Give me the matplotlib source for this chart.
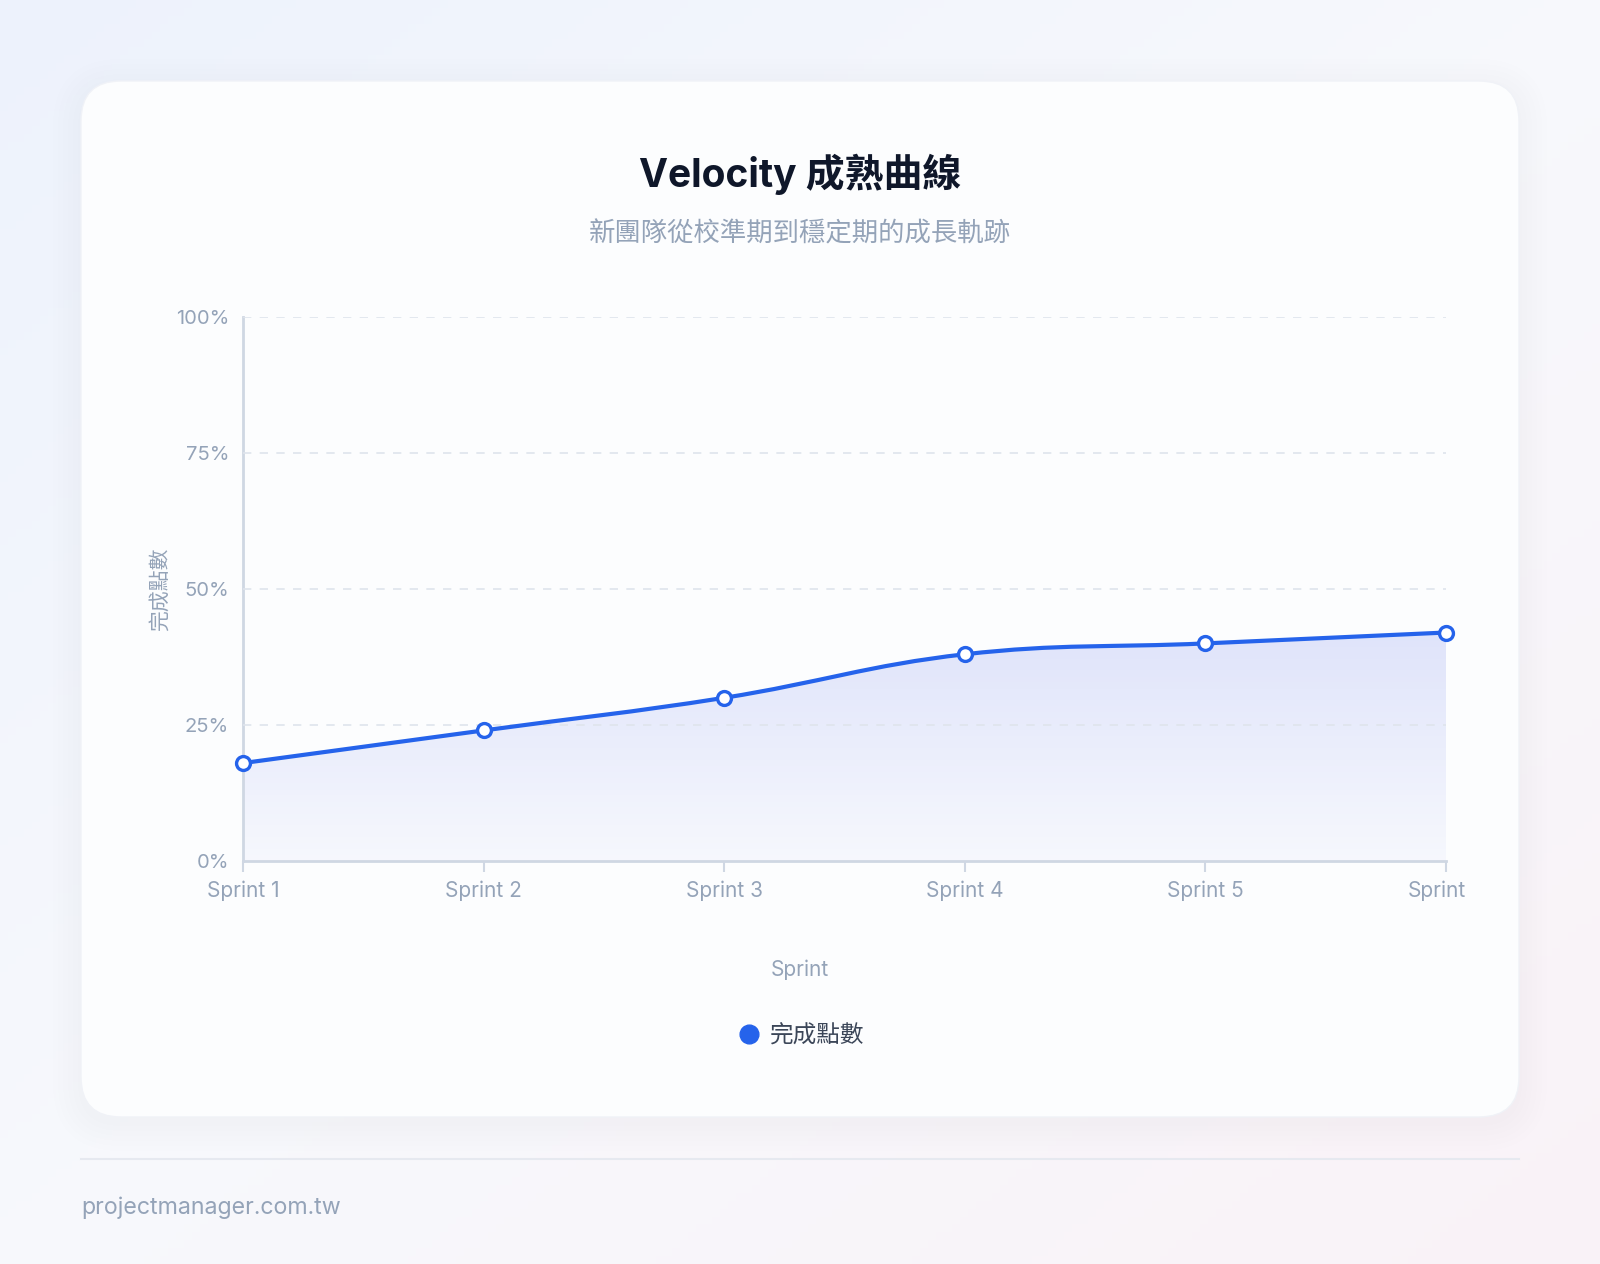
import numpy as np
import matplotlib
matplotlib.use("Agg")
import matplotlib.pyplot as plt
from matplotlib.patches import FancyBboxPatch, PathPatch
from matplotlib.path import Path
from matplotlib.lines import Line2D
from matplotlib.transforms import offset_copy

# data
sprints = ["Sprint 1", "Sprint 2", "Sprint 3", "Sprint 4", "Sprint 5", "Sprint"]
completed = [18, 24, 30, 38, 40, 42]
y_ticks = [0, 25, 50, 75, 100]

title = "Velocity 成熟曲線"
subtitle = "新團隊從校準期到穩定期的成長軌跡"
series_name = "完成點數"
footer = "projectmanager.com.tw"

fonts = ["Inter", "Noto Sans CJK TC", "DejaVu Sans"]
plt.rcParams["font.family"] = fonts

blue = "#2563eb"
muted = "#94a3b8"

W, H = 1600, 1264
fig = plt.figure(figsize=(W / 100, H / 100), dpi=100)

# page background gradient
bg = fig.add_axes([0, 0, 1, 1], zorder=-10)
bg.set_xlim(0, W)
bg.set_ylim(0, H)
bg.axis("off")
gx, gy = np.meshgrid(np.linspace(0, 1, 200), np.linspace(0, 1, 160))
c_tl = np.array([0.93, 0.95, 0.99])
c_br = np.array([0.98, 0.95, 0.97])
c_mid = np.array([0.97, 0.975, 0.99])
t = (gx + gy) / 2
img = np.zeros(gx.shape + (3,))
for k in range(3):
    img[..., k] = np.where(t < 0.5, c_tl[k] + (c_mid[k] - c_tl[k]) * t * 2,
                           c_mid[k] + (c_br[k] - c_mid[k]) * (t - 0.5) * 2)
bg.imshow(img, extent=[0, W, 0, H], origin="upper", aspect="auto", zorder=0)

# card with soft shadow
cx0, cy0, cx1, cy1 = 81, H - 1117, 1519, H - 81
for i in range(6):
    grow = 3 + i * 5
    bg.add_patch(FancyBboxPatch((cx0 - grow, cy0 - grow - 6), cx1 - cx0 + 2 * grow, cy1 - cy0 + 2 * grow,
                                boxstyle="round,pad=0,rounding_size=%d" % (40 + grow),
                                fc="#3b4a6b", ec="none", alpha=0.005, zorder=1))
bg.add_patch(FancyBboxPatch((cx0, cy0), cx1 - cx0, cy1 - cy0,
                            boxstyle="round,pad=0,rounding_size=40",
                            fc="#fcfdfe", ec="#f0f2f7", lw=1, zorder=2))

# footer
bg.plot([81, 1519], [H - 1159, H - 1159], color="#e6e9f0", lw=1.5, zorder=2)
bg.text(81, H - 1208, footer, fontsize=16.7, color=muted, ha="left", va="center", zorder=3)

# titles
bg.text(800, H - 174, title, fontsize=28, fontweight="bold", color="#0f172a",
        ha="center", va="center", zorder=3)
bg.text(800, H - 234, subtitle, fontsize=19, color=muted, ha="center", va="center", zorder=3)

# main chart
ax = fig.add_axes([243 / W, 1 - 861 / H, (1446 - 243) / W, (861 - 317) / H], zorder=5)
ax.patch.set_alpha(0)
x = np.arange(len(sprints))
ax.set_xlim(0, len(sprints) - 1)
ax.set_ylim(0, 100)

# smooth curve (bezier, tension like Chart.js) built in display space
pts = ax.transData.transform(np.column_stack([x, completed]))
tension = 0.4
n = len(pts)
ctrl_prev = np.zeros_like(pts)
ctrl_next = np.zeros_like(pts)
for i in range(n):
    p = pts[i]
    pp = pts[i - 1] if i > 0 else p
    pn = pts[i + 1] if i < n - 1 else p
    d01 = np.hypot(*(p - pp))
    d12 = np.hypot(*(pn - p))
    tot = d01 + d12
    s01 = d01 / tot if tot else 0
    s12 = d12 / tot if tot else 0
    ctrl_prev[i] = p - tension * s01 * (pn - pp)
    ctrl_next[i] = p + tension * s12 * (pn - pp)
verts = [pts[0]]
codes = [Path.MOVETO]
for i in range(n - 1):
    verts += [ctrl_next[i], ctrl_prev[i + 1], pts[i + 1]]
    codes += [Path.CURVE4] * 3
inv = ax.transData.inverted()
verts_data = inv.transform(np.array(verts))
curve = Path(verts_data, codes)

fill_verts = list(verts_data) + [[x[-1], 0], [x[0], 0], verts_data[0]]
fill_codes = codes + [Path.LINETO, Path.LINETO, Path.CLOSEPOLY]
fill_patch = PathPatch(Path(fill_verts, fill_codes), fc="none", ec="none")
ax.add_patch(fill_patch)
grad = np.zeros((100, 2, 4))
grad[..., 0] = 0.39
grad[..., 1] = 0.47
grad[..., 2] = 0.92
grad[..., 3] = np.linspace(0.2, 0.04, 100)[:, None]
gim = ax.imshow(grad, extent=[x[0], x[-1], 0, 45], aspect="auto", zorder=2, origin="upper")
gim.set_clip_path(fill_patch)

ax.add_patch(PathPatch(curve, fc="none", ec=blue, lw=3, zorder=4, capstyle="round"))
ax.plot(x, completed, ls="none", marker="o", ms=10, mfc="white", mec=blue, mew=2.4, zorder=5, clip_on=False)

# grid and axes styling
for yt in y_ticks[1:]:
    ax.axhline(yt, color="#dfe4ec", lw=1.2, ls=(0, (5, 5)), zorder=3)
for s in ["top", "right"]:
    ax.spines[s].set_visible(False)
for s in ["left", "bottom"]:
    ax.spines[s].set_color("#cfd7e3")
    ax.spines[s].set_linewidth(2)
ax.set_yticks(y_ticks)
ax.set_yticklabels([f"{v}%" for v in y_ticks])
ax.set_xticks(x)
ax.set_xticklabels(sprints)
ax.tick_params(axis="y", length=0, pad=10, labelsize=14.5, labelcolor=muted)
ax.tick_params(axis="x", length=8, width=1.5, color="#cfd7e3", pad=6, labelsize=15, labelcolor=muted)
xt = ax.get_xticklabels()
xt[-1].set_horizontalalignment("right")
xt[-1].set_transform(offset_copy(xt[-1].get_transform(), fig=fig, x=20, y=0, units="dots"))

ax.set_ylabel(series_name, fontsize=15, color=muted, labelpad=4)
bg.text(800, H - 970, "Sprint", fontsize=15, color=muted, ha="center", va="center", zorder=3)

# legend
leg_h = [Line2D([], [], ls="none", marker="o", ms=13.5, mfc=blue, mec=blue)]
fig.legend(leg_h, [series_name], loc="center", bbox_to_anchor=(800 / W, 1 - 1036 / H),
           frameon=False, fontsize=17, labelcolor="#3b4658", handletextpad=0.3, handlelength=1.2)

fig.savefig("out.png", dpi=100)
